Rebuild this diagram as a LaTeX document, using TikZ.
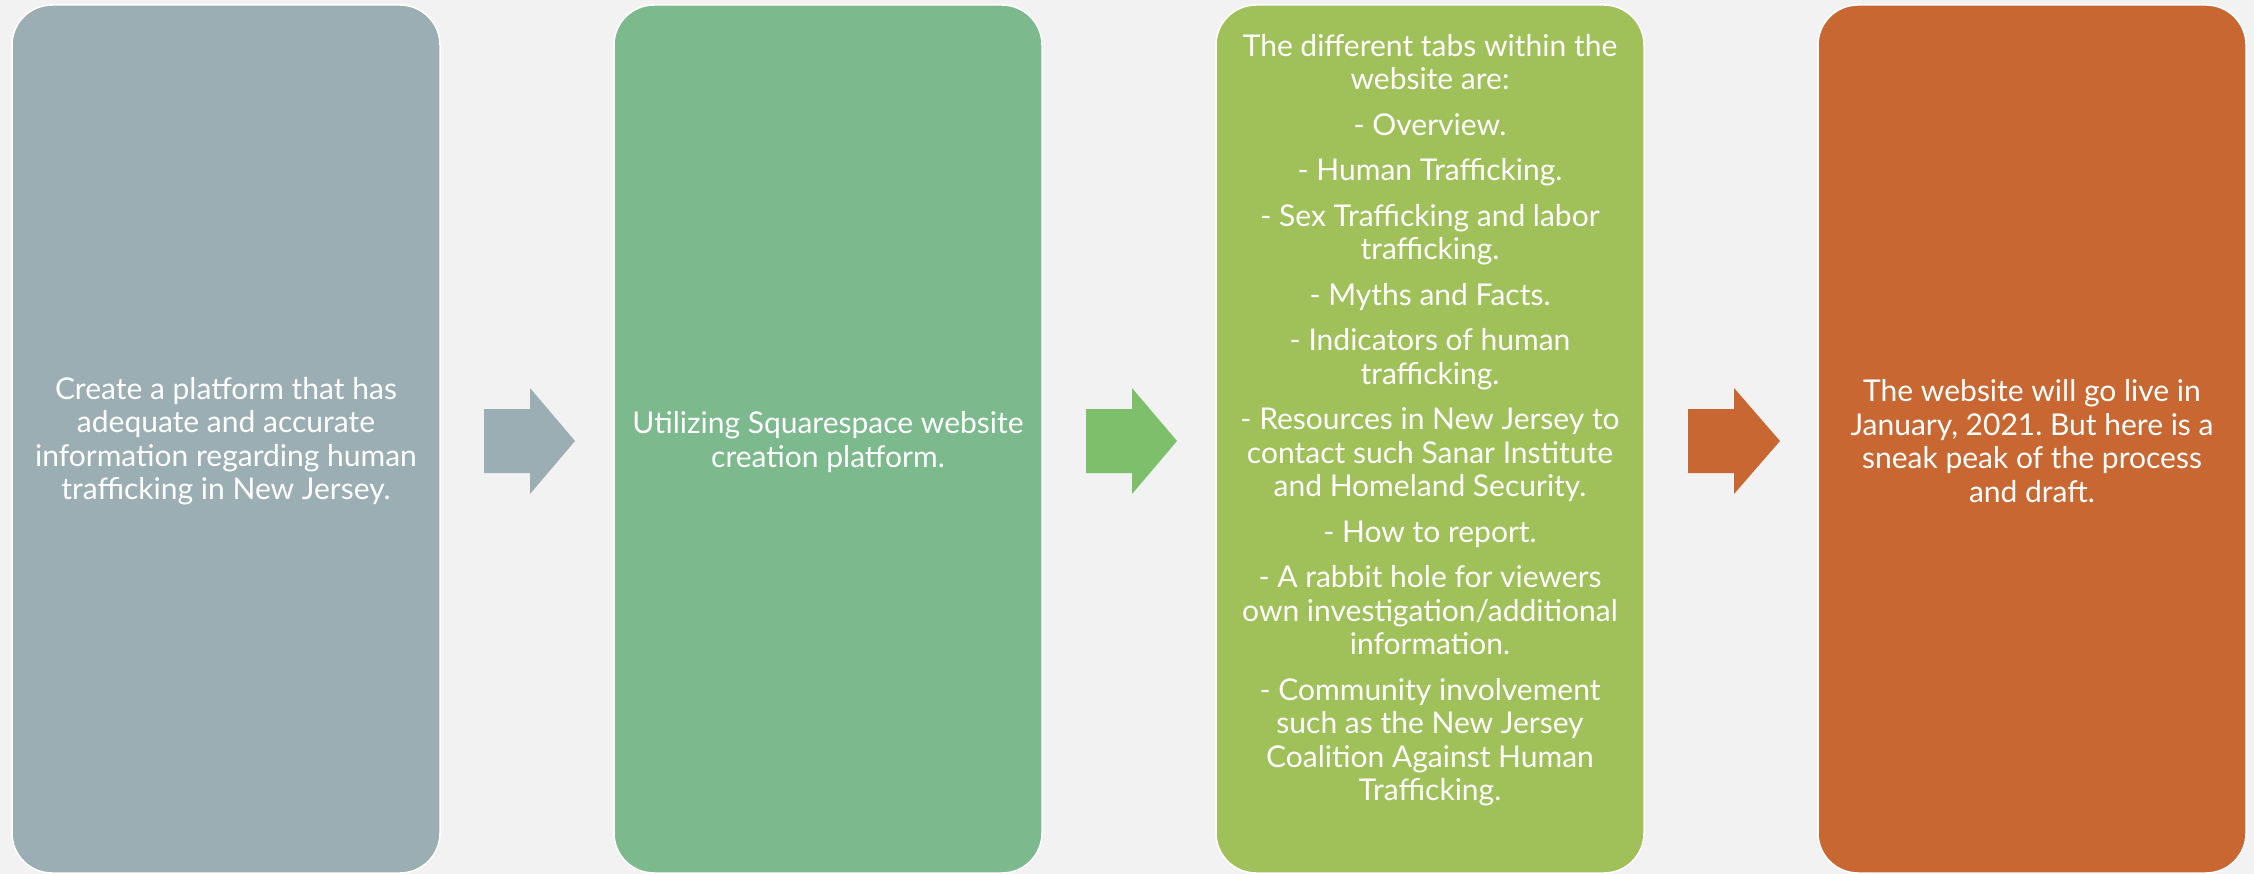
\documentclass[tikz,border=0pt]{standalone}
\usepackage{fontspec}
\setmainfont{Lato}
\frenchspacing
\definecolor{bg}{HTML}{F2F2F2}
\definecolor{cA}{HTML}{9BAEB4}
\definecolor{cB}{HTML}{7CB98D}
\definecolor{cC}{HTML}{A0C05A}
\definecolor{cD}{HTML}{C86731}
\definecolor{aB}{HTML}{7EBF6B}
\tikzset{
  stepbox/.style={draw=white, line width=1.5pt, rounded corners=40pt},
  boxtext/.style={text=white, align=center, inner sep=0pt,
    font=\fontsize{30}{33.5}\selectfont\frenchspacing},
}
\begin{document}
\begin{tikzpicture}[x=1pt,y=-1pt]
\useasboundingbox (0,0) rectangle (2254,874);
\fill[bg] (0,0) rectangle (2254,874);
% boxes
\filldraw[stepbox, fill=cA] (12,5) rectangle (440,873);
\filldraw[stepbox, fill=cB] (614,5) rectangle (1042,873);
\filldraw[stepbox, fill=cC] (1216,5) rectangle (1644,873);
\filldraw[stepbox, fill=cD] (1818,5) rectangle (2246,873);
% texts
\node[boxtext] (t1) at (226,441) {Create a platform that has\\adequate and accurate\\information regarding human\\trafficking in New Jersey.};
\node[boxtext] (t2) at (828,442) {Utilizing Squarespace website\\creation platform.};
\node[boxtext] (t3) at (1430,420) {The different tabs within the\\website are:\\[12pt]
- Overview.\\[12pt]
- Human Trafficking.\\[12pt]
- Sex Trafficking and labor\\trafficking.\\[12pt]
- Myths and Facts.\\[12pt]
- Indicators of human\\trafficking.\\[12pt]
- Resources in New Jersey to\\contact such Sanar Institute\\and Homeland Security.\\[12pt]
- How to report.\\[12pt]
- A rabbit hole for viewers\\own investigation/additional\\information.\\[12pt]
- Community involvement\\such as the New Jersey\\Coalition Against Human\\Trafficking.};
\node[boxtext] (t4) at (2032,441) {The website will go live in\\January, 2021. But here is a\\sneak peak of the process\\and draft.};
% arrows
\fill[cA] (484,409) -- (530,409) -- (530,388) -- (575,441) -- (530,494) -- (530,473) -- (484,473) -- cycle;
\fill[aB] (1086,409) -- (1132,409) -- (1132,388) -- (1177,441) -- (1132,494) -- (1132,473) -- (1086,473) -- cycle;
\fill[cD] (1688,409) -- (1734,409) -- (1734,388) -- (1780,441) -- (1734,494) -- (1734,473) -- (1688,473) -- cycle;
\end{tikzpicture}
\end{document}
